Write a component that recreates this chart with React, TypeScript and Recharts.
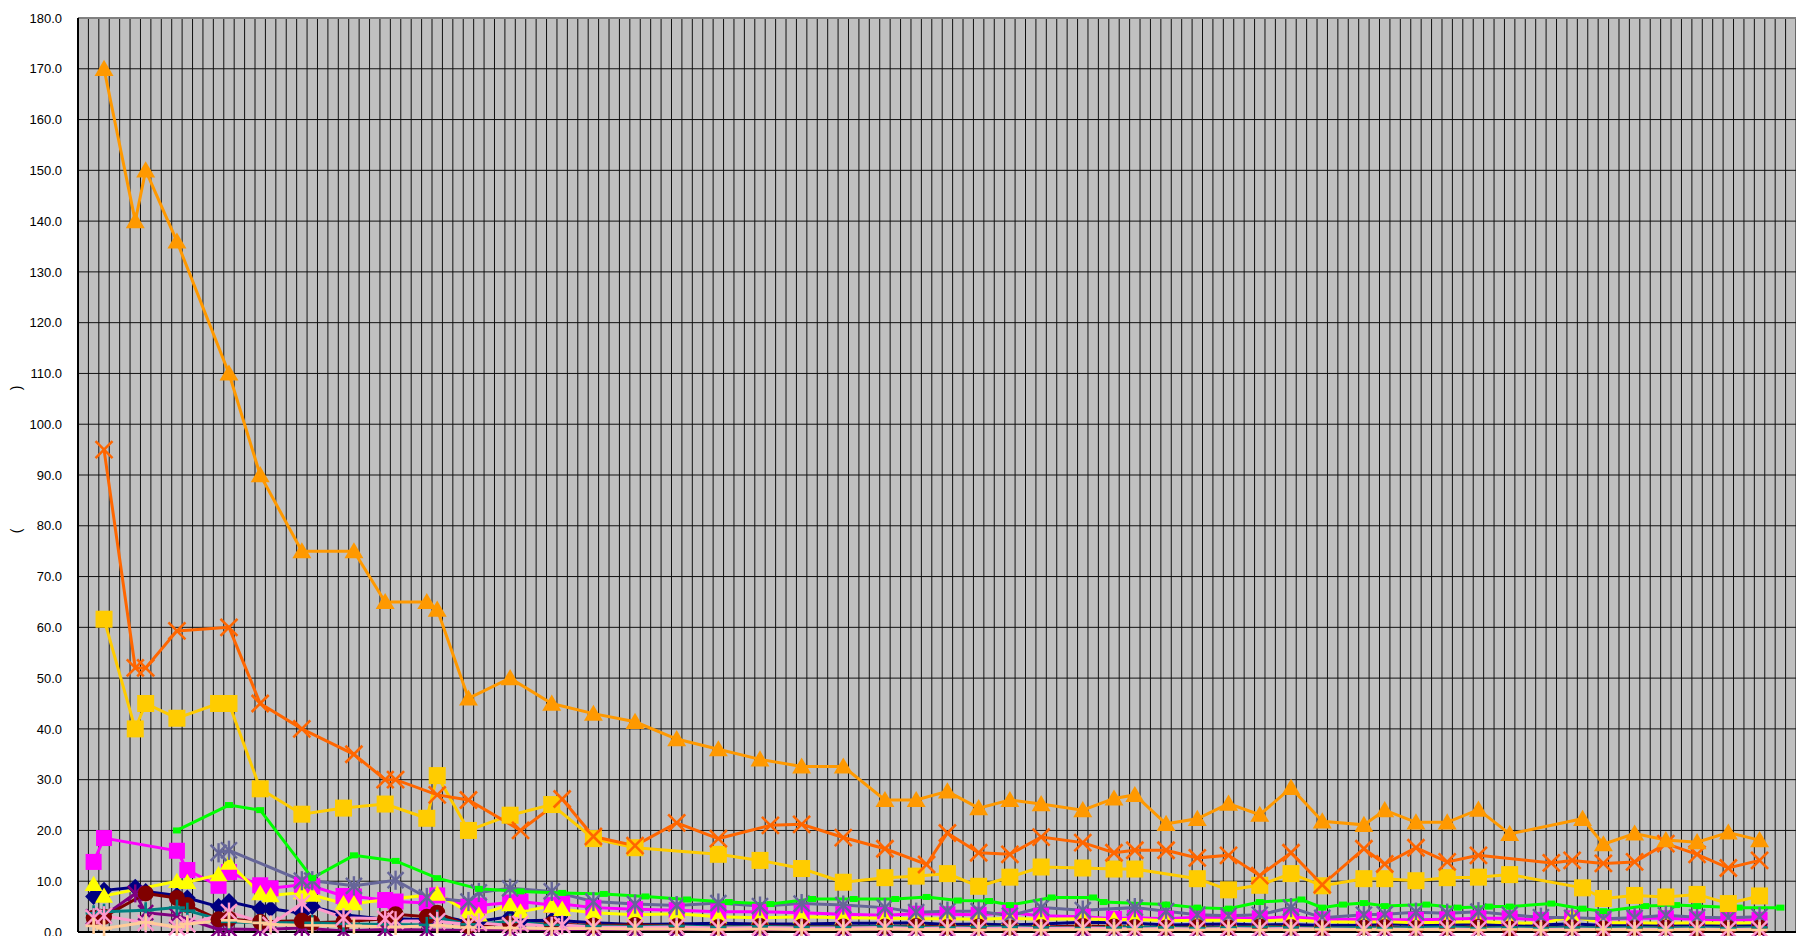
import { LineChart, Line, XAxis, YAxis, CartesianGrid, ReferenceLine } from 'recharts';

// 横軸は日単位のカテゴリ（165日分）
const DAY_COUNT = 165;

// 上位3系列（オレンジ三角・オレンジ×・金色四角）
const triDays = [2, 5, 6, 9, 14, 17, 21, 26, 29, 33, 34, 37, 41, 45, 49, 53, 57, 61, 65, 69, 73, 77, 80, 83, 86, 89, 92, 96, 99, 101, 104, 107, 110, 113, 116, 119, 123, 125, 128, 131, 134, 137, 144, 146, 149, 152, 155, 158, 161];
const triValues = [170, 140, 150, 136, 110, 90, 75, 75, 65, 65, 63.5, 46, 50, 45, 43, 41.4, 38, 36, 34, 32.6, 32.6, 26, 26, 27.7, 24.4, 26, 25.2, 24, 26.3, 27, 21.3, 22.3, 25.3, 23.1, 28.4, 21.8, 21.1, 24, 21.6, 21.6, 24.1, 19.3, 22.3, 17.3, 19.4, 18.1, 17.7, 19.6, 18.1];

const crossDays = [2, 5, 6, 9, 14, 17, 21, 26, 29, 30, 34, 37, 42, 46, 49, 53, 57, 61, 66, 69, 73, 77, 81, 83, 86, 89, 92, 96, 99, 101, 104, 107, 110, 113, 116, 119, 123, 125, 128, 131, 134, 141, 143, 146, 149, 152, 155, 158, 161];
const crossValues = [95, 52, 52, 59.3, 60, 45, 40, 35, 30, 30, 27, 26, 20, 26.2, 18.8, 17, 21.5, 18.4, 21, 21.2, 18.6, 16.4, 13.3, 19.5, 15.6, 15.3, 18.7, 17.6, 15.6, 16.1, 16.1, 14.6, 15.1, 11.1, 15.6, 9.3, 16.4, 13.4, 16.6, 13.8, 15.1, 13.6, 14.1, 13.5, 13.8, 17.4, 15.3, 12.6, 14.1];

const goldDays = [2, 5, 6, 9, 13, 14, 17, 21, 25, 29, 33, 34, 37, 41, 45, 49, 53, 61, 65, 69, 73, 77, 80, 83, 86, 89, 92, 96, 99, 101, 107, 110, 113, 116, 119, 123, 125, 128, 131, 134, 137, 144, 146, 149, 152, 155, 158, 161];
const goldValues = [61.6, 40, 45, 42.1, 45, 45, 28.2, 23.2, 24.4, 25.2, 22.4, 30.8, 20, 23, 25.1, 18.4, 16.6, 15.3, 14.1, 12.5, 9.8, 10.7, 11, 11.5, 9, 10.8, 12.8, 12.6, 12.4, 12.4, 10.5, 8.3, 9.2, 11.5, 9.1, 10.5, 10.5, 10.1, 10.7, 10.8, 11.3, 8.7, 6.6, 7.2, 6.9, 7.4, 5.6, 7.1];

const greenDays = [9, 14, 17, 22, 26, 30, 34, 38, 42, 46, 50, 54, 58, 62, 66, 70, 74, 78, 81, 84, 87, 89, 93, 97, 98, 104, 107, 110, 113, 117, 119, 121, 123, 125, 129, 132, 135, 137, 141, 144, 146, 150, 153, 155, 159, 163];
const greenValues = [20, 25, 24, 10.6, 15.1, 14, 10.6, 8.5, 8.0, 7.7, 7.5, 7.0, 6.4, 5.9, 5.5, 6.5, 6.5, 6.5, 6.9, 6.2, 6.1, 5.3, 6.8, 6.8, 5.9, 5.4, 4.8, 4.6, 5.9, 6.4, 4.8, 5.4, 5.7, 5.1, 5.4, 4.8, 5.0, 5.0, 5.6, 4.6, 4.1, 5.1, 5.3, 5.1, 4.8, 4.8];

// 下位系列の測定日
const lowDays = [1, 2, 5, 6, 9, 10, 13, 14, 17, 18, 21, 22, 25, 26, 29, 30, 33, 34, 37, 38, 41, 42, 45, 46, 49, 53, 57, 61, 65, 69, 73, 77, 80, 83, 86, 89, 92, 96, 99, 101, 104, 107, 110, 113, 116, 119, 123, 125, 128, 131, 134, 137, 140, 143, 146, 149, 152, 155, 158, 161];

const magentaValues = [13.8, 18.5, null, null, 16, 12.2, 9.1, 11.8, 9.2, 8.6, 9.3, 9.0, 7.1, 7.0, 6.3, 6.0, 5.7, 7.2, 5.0, 5.2, 5.8, 6.0, 5.3, 5.5, 4.8, 4.5, 4.3, 4.0, 4.0, 3.8, 3.5, 3.3, 3.6, 3.5, 3.4, 3.8, 3.2, 3.0, 2.6, 2.8, 2.6, 2.9, 2.8, 2.7, 3.0, 2.5, 2.5, 2.4, 2.4, 2.5, 2.7, 2.7, 2.4, 2.7, 2.5, 2.7, 2.7, 2.5, 2.4, 2.4];
const yellowValues = [9.4, 7.1, null, null, 10, 9.8, 11.3, 13.6, 7.6, 7.2, 7.8, 7.3, 5.6, 5.6, null, null, null, 7.5, 3.9, 3.4, 5.4, 4.0, 5.1, 4.5, 3.8, 3.4, 3.6, 3.0, 2.8, 3.0, 2.8, 2.7, 2.6, 2.6, 2.5, 2.7, 2.5, 2.6, 2.4, 2.5, 2.2, 2.3, 2.3, 2.2, 2.4, 2.0, 1.9, 2.0, 1.8, 1.9, 2.0, 1.8, 1.7, 3.0, 1.8, 1.8, 1.7, 1.8, 1.7, 1.8];
const slateValues = [null, null, null, null, null, null, 15.6, 16.1, null, null, 10.1, 10.1, null, 9.1, null, 10.2, 6.8, null, 6.0, 7.8, 8.6, null, 8.0, null, 6.0, 5.5, 5.2, 5.7, 5.1, 5.6, 5.3, 4.8, 3.9, 4.1, 4.1, 3.2, 4.8, 4.3, null, 4.8, 4.1, 3.4, 3.2, 3.4, 4.8, 2.8, 3.4, 3.5, 3.9, 3.7, 4.0, 3.4, 2.9, 2.8, 2.6, 2.8, 3.3, 2.9, 2.8, 3.0];
const navyValues = [7.0, 8.2, 8.8, 8.0, 7.2, 6.7, 5.0, 6.0, 4.6, 4.6, 3.7, 5.0, 3.4, null, 2.5, 2.6, 2.4, 3.3, 2.0, 2.1, 3.0, 2.2, 2.3, 2.2, 1.8, 1.5, 1.6, 1.7, 1.6, 1.6, 1.7, 1.7, 1.8, 1.5, 1.6, 1.4, 1.6, 1.9, 1.8, 1.7, 1.4, 1.5, 1.6, 1.4, 1.5, 1.3, 1.4, 1.6, 1.5, 1.4, 1.6, 1.2, 1.4, 1.6, 1.3, 1.4, 1.5, 1.3, 1.4, 1.5];
const maroonValues = [2.8, 3.0, null, 7.6, 6.7, 5.3, 2.5, 2.6, 2.0, null, 2.2, 1.8, 2.0, null, 2.6, 3.5, 3.0, 3.8, 1.2, null, 1.7, null, 1.6, null, 1.3, 1.4, 1.2, 1.0, 1.2, 1.1, 1.1, 1.1, 1.2, 1.0, 1.1, 0.9, 1.0, 1.2, 1.1, 1.0, 0.9, 1.0, 0.9, 1.1, 1.0, 0.8, 0.9, 1.0, 0.8, 0.9, 1.0, 0.7, 0.8, 0.9, 0.7, 0.8, 0.9, 0.7, 0.8, 0.9];
const purpleValues = [3.0, 3.2, 7.6, 3.8, 3.2, null, 0.5, 0.6, 0.5, null, 0.8, null, 0.2, null, 0.5, null, 0.4, null, 0.3, null, 0.3, null, 0.2, null, 0.3, 0.2, 0.3, 0.2, 0.2, 0.3, 0.2, 0.2, 0.3, 0.2, 0.2, 0.3, 0.2, 0.2, 0.3, 0.2, 0.2, 0.2, 0.3, 0.2, 0.2, 0.2, 0.3, 0.2, 0.2, 0.2, 0.3, 0.2, 0.2, 0.2, 0.2, 0.3, 0.2, 0.2, 0.2, 0.2];
const tealValues = [3.7, 4.0, null, 4.3, 4.8, 4.2, null, 2.0, 1.8, null, null, 1.8, 1.6, null, 1.5, null, 1.4, 2.8, 1.5, null, 2.0, null, 1.4, null, 1.2, 1.1, 1.2, 1.0, 1.1, 1.0, 1.0, 1.1, 1.0, 0.9, 1.0, 1.0, 0.9, 0.8, 0.9, 1.0, 0.9, 0.8, 0.9, 1.0, 0.9, 0.8, 0.9, 0.8, 0.9, 1.0, 0.8, 0.9, 0.8, 0.9, 0.8, 0.9, 0.8, 0.9, 0.8, 0.9];
const pinkValues = [2.8, 3.2, null, 1.8, 0.9, 1.5, null, 3.9, null, 1.4, 5.7, null, 2.8, null, 2.6, 2.2, null, 2.1, 1.5, 1.8, 1.3, 1.6, 1.1, 1.4, 1.0, 0.9, 1.0, 0.8, 0.9, 0.8, 0.8, 0.9, 0.7, 0.8, 0.7, 0.8, 0.7, 0.8, 0.7, 0.6, 0.7, 0.6, 0.7, 0.6, 0.7, 0.6, 0.5, 0.6, 0.5, 0.6, 0.5, 0.6, 0.5, 0.6, 0.5, 0.6, 0.5, 0.6, 0.5, 0.6];
const peachValues = [1.2, 0.7, null, 1.9, 1.0, 1.6, null, 2.3, 1.8, 1.5, null, 1.3, null, 1.2, null, 1.0, null, 1.3, 0.9, null, 0.8, null, 0.7, null, 0.7, 0.6, 0.6, 0.5, 0.6, 0.5, 0.5, 0.6, 0.5, 0.5, 0.4, 0.5, 0.4, 0.5, 0.4, 0.5, 0.4, 0.4, 0.5, 0.4, 0.4, 0.5, 0.4, 0.4, 0.5, 0.4, 0.4, 0.5, 0.4, 0.4, 0.5, 0.4, 0.4, 0.5, 0.4, 0.4];

const yTicks = [0, 10, 20, 30, 40, 50, 60, 70, 80, 90, 100, 110, 120, 130, 140, 150, 160, 170, 180];
// 日の境界（カテゴリ間）に縦グリッド線
const dayBoundaries = Array.from({ length: DAY_COUNT + 1 }, (_, i) => i - 0.5);

type Shape = 'triangle' | 'cross' | 'square' | 'smallSquare' | 'diamond' | 'circle' | 'asterisk' | 'plus';

interface SeriesDef {
  key: string;
  days: number[];
  values: (number | null)[];
  color: string;
  shape: Shape;
  size: number;
}

const series: SeriesDef[] = [
  { key: 'navy', days: lowDays, values: navyValues, color: '#000080', shape: 'diamond', size: 17 },
  { key: 'magenta', days: lowDays, values: magentaValues, color: '#FF00FF', shape: 'square', size: 16 },
  { key: 'yellow', days: lowDays, values: yellowValues, color: '#FFFF00', shape: 'triangle', size: 18 },
  { key: 'slate', days: lowDays, values: slateValues, color: '#666699', shape: 'asterisk', size: 16 },
  { key: 'purple', days: lowDays, values: purpleValues, color: '#800080', shape: 'asterisk', size: 15 },
  { key: 'maroon', days: lowDays, values: maroonValues, color: '#800000', shape: 'circle', size: 16 },
  { key: 'teal', days: lowDays, values: tealValues, color: '#008080', shape: 'plus', size: 16 },
  { key: 'green', days: greenDays, values: greenValues, color: '#00FF00', shape: 'smallSquare', size: 8 },
  { key: 'gold', days: goldDays, values: goldValues, color: '#FFCC00', shape: 'square', size: 17 },
  { key: 'cross', days: crossDays, values: crossValues, color: '#FF6600', shape: 'cross', size: 17 },
  { key: 'tri', days: triDays, values: triValues, color: '#FF9900', shape: 'triangle', size: 19 },
  { key: 'pink', days: lowDays, values: pinkValues, color: '#FF99CC', shape: 'asterisk', size: 16 },
  { key: 'peach', days: lowDays, values: peachValues, color: '#FFCC99', shape: 'plus', size: 16 },
];

const toPoints = (days: number[], values: (number | null)[]) =>
  days
    .map((day, i) => ({ day, v: values[i] }))
    .filter((p) => p.v !== null && p.v !== undefined);

function Marker({ cx, cy, shape, color, size }: { cx: number; cy: number; shape: Shape; color: string; size: number }) {
  const h = size / 2;
  switch (shape) {
    case 'triangle':
      return <polygon points={`${cx},${cy - h * 0.95} ${cx - h},${cy + h * 0.75} ${cx + h},${cy + h * 0.75}`} fill={color} />;
    case 'square':
      return <rect x={cx - h} y={cy - h} width={size} height={size} fill={color} />;
    case 'smallSquare':
      return <rect x={cx - h} y={cy - 3} width={size} height={6} fill={color} />;
    case 'diamond':
      return <polygon points={`${cx},${cy - h} ${cx + h},${cy} ${cx},${cy + h} ${cx - h},${cy}`} fill={color} />;
    case 'circle':
      return <circle cx={cx} cy={cy} r={h} fill={color} />;
    case 'cross':
      return (
        <g stroke={color} strokeWidth={2.6}>
          <line x1={cx - h} y1={cy - h} x2={cx + h} y2={cy + h} />
          <line x1={cx - h} y1={cy + h} x2={cx + h} y2={cy - h} />
        </g>
      );
    case 'plus':
      return (
        <g stroke={color} strokeWidth={2.6}>
          <line x1={cx - h} y1={cy} x2={cx + h} y2={cy} />
          <line x1={cx} y1={cy - h} x2={cx} y2={cy + h} />
        </g>
      );
    case 'asterisk':
      return (
        <g stroke={color} strokeWidth={2.4}>
          <line x1={cx - h} y1={cy - h} x2={cx + h} y2={cy + h} />
          <line x1={cx - h} y1={cy + h} x2={cx + h} y2={cy - h} />
          <line x1={cx} y1={cy - h * 1.2} x2={cx} y2={cy + h * 1.2} />
        </g>
      );
    default:
      return null;
  }
}

const makeDot = (s: SeriesDef) => (props: any) => {
  const { cx, cy, index } = props;
  if (cx == null || cy == null) return <g key={`${s.key}-${index}`} />;
  return (
    <g key={`${s.key}-${index}`}>
      <Marker cx={cx} cy={cy} shape={s.shape} color={s.color} size={s.size} />
    </g>
  );
};

// 縦グリッド線：x軸のスケールで日の境界を位置に変換
const verticalLines = ({ xAxis, offset }: any) => {
  const scale = xAxis && typeof xAxis.scale === 'function' ? xAxis.scale : null;
  return dayBoundaries.map((d) =>
    scale ? scale(d) : offset.left + ((d + 0.5) * offset.width) / DAY_COUNT,
  );
};

// 縦軸タイトル（括弧のみ表示される）
function AxisTitle() {
  return (
    <g fontFamily="'Liberation Sans', Arial, sans-serif" fontSize={14} fill="#000">
      <text transform="translate(16,531) rotate(-90)" textAnchor="middle" dominantBaseline="central">(</text>
      <text transform="translate(16,388) rotate(-90)" textAnchor="middle" dominantBaseline="central">)</text>
    </g>
  );
}

export default function App() {
  return (
    <div
      style={{
        position: 'absolute',
        left: 0,
        top: 0,
        width: 1796,
        height: 936,
        overflow: 'hidden',
        background: '#fff',
      }}
    >
      <LineChart width={1796} height={936} margin={{ top: 18, right: 0, bottom: 0, left: 0 }}>
        <CartesianGrid
          stroke="#111"
          strokeWidth={1}
          fill="#C0C0C0"
          fillOpacity={1}
          verticalCoordinatesGenerator={verticalLines}
        />
        <XAxis
          type="number"
          dataKey="day"
          domain={[-0.5, DAY_COUNT - 0.5]}
          ticks={dayBoundaries}
          interval={0}
          tick={false}
          tickLine={false}
          height={4}
          axisLine={{ stroke: '#000', strokeWidth: 2 }}
          allowDataOverflow
        />
        <YAxis
          type="number"
          domain={[0, 180]}
          ticks={yTicks}
          interval={0}
          width={78}
          tickLine={false}
          tickSize={8}
          tickMargin={8}
          axisLine={{ stroke: '#000', strokeWidth: 2 }}
          tickFormatter={(v: number) => v.toFixed(1)}
          tick={{ fill: '#000', fontSize: 13, fontFamily: "'Liberation Sans', Arial, sans-serif" }}
          label={<AxisTitle />}
        />
        <ReferenceLine y={180} stroke="#808080" strokeWidth={2} />
        {series.map((s) => (
          <Line
            key={s.key}
            data={toPoints(s.days, s.values)}
            dataKey="v"
            type="linear"
            stroke={s.color}
            strokeWidth={3}
            dot={makeDot(s)}
            activeDot={false}
            isAnimationActive={false}
          />
        ))}
      </LineChart>
    </div>
  );
}
